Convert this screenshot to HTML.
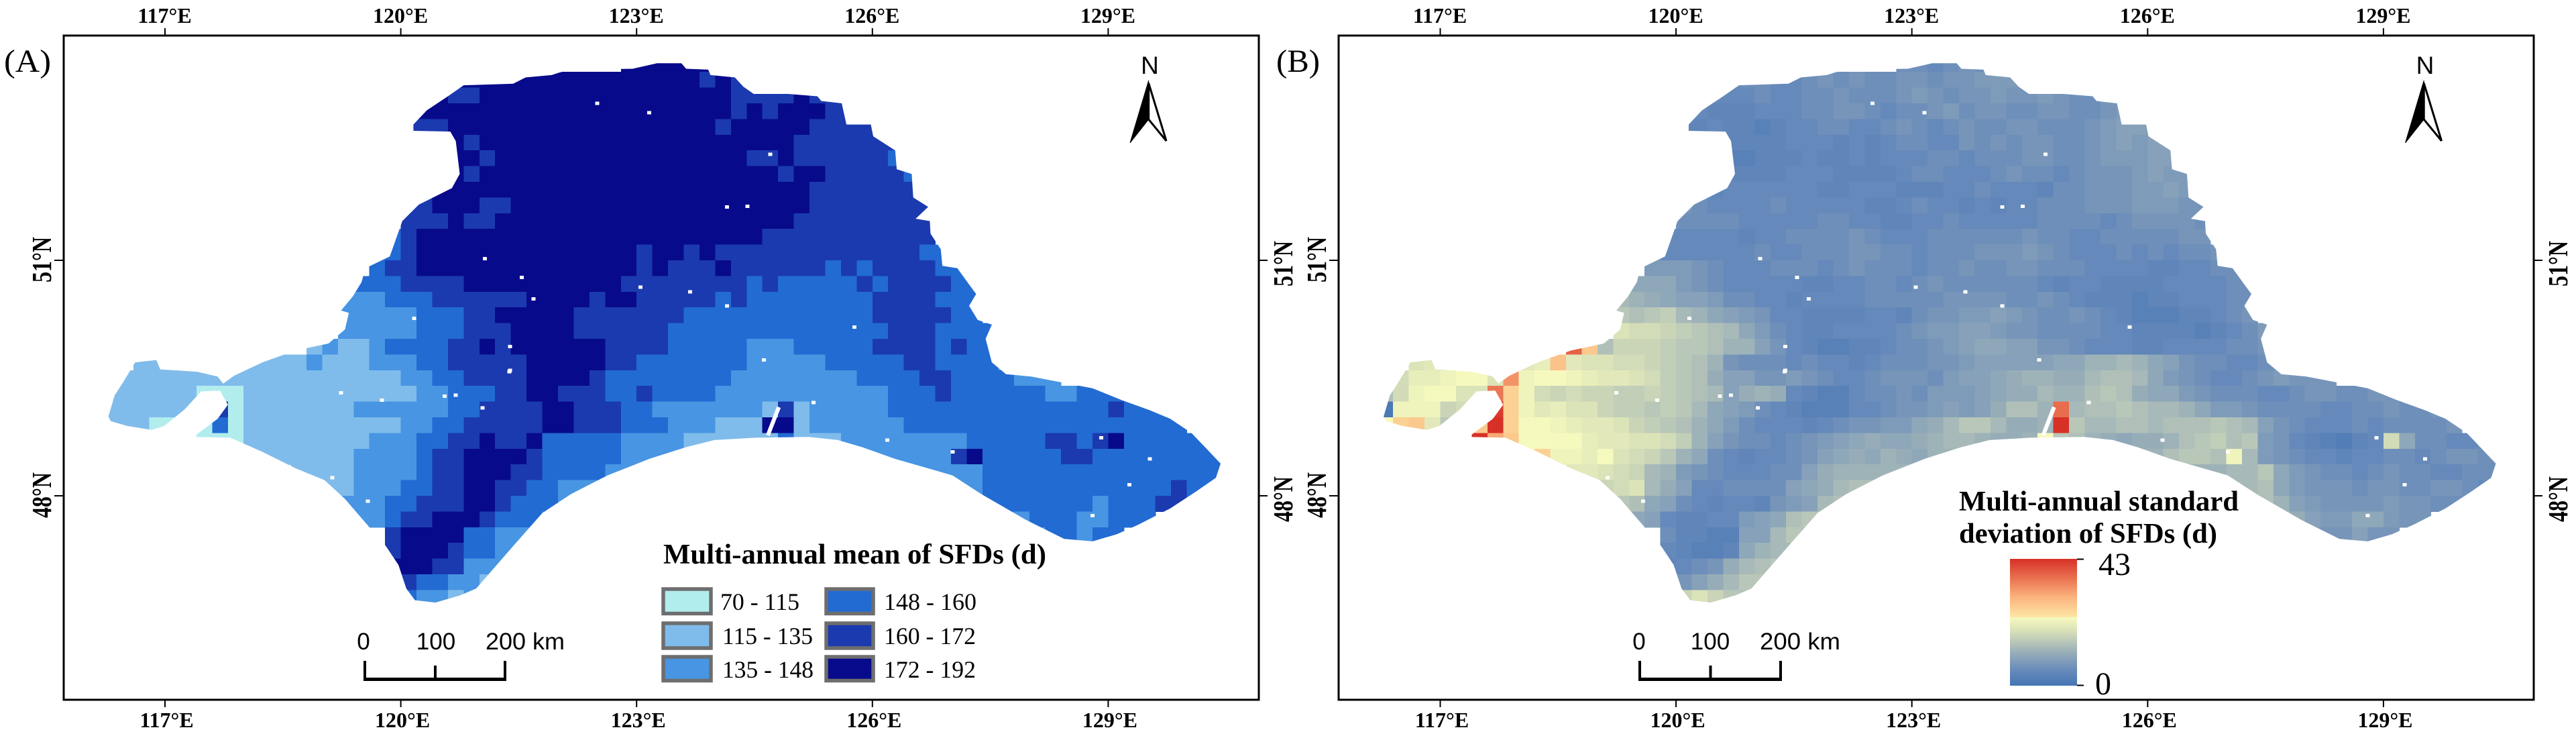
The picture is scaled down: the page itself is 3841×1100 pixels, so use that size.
<!DOCTYPE html>
<html lang="en">
<head>
<meta charset="utf-8">
<title>Multi-annual mean and standard deviation of SFDs</title>
<style>
html,body{margin:0;padding:0;background:#fff;width:3841px;height:1100px;overflow:hidden}
svg{display:block}
.tick{font:bold 32px "Liberation Serif",serif;fill:#000}
.panel{font:48px "Liberation Serif",serif;fill:#000}
.ttl{font:bold 42px "Liberation Serif",serif;fill:#000}
.leg{font:36px "Liberation Serif",serif;fill:#000}
.sc{font:35px "Liberation Sans",sans-serif;fill:#000}
.nn{font:37px "Liberation Sans",sans-serif;fill:#000}
.cb{font:48px "Liberation Serif",serif;fill:#000}
</style>
</head>
<body>
<svg id="chart" xmlns="http://www.w3.org/2000/svg" width="3841" height="1100" viewBox="0 0 3841 1100">
<defs>
<linearGradient id="cbGrad" x1="0" y1="1" x2="0" y2="0"></linearGradient>
</defs>
<rect x="0" y="0" width="3841" height="1100" fill="#fff"/>
<g id="panelA"></g>
<g id="panelB"></g>
<g id="axes"></g>

<rect x="95" y="53" width="1782" height="990" fill="none" stroke="#000" stroke-width="3"/>
<rect x="1996" y="53" width="1782" height="990" fill="none" stroke="#000" stroke-width="3"/>

<text x="6" y="107" class="panel" textLength="70" lengthAdjust="spacingAndGlyphs">(A)</text>
<text x="1903" y="107" class="panel" textLength="65" lengthAdjust="spacingAndGlyphs">(B)</text>

<g>
<text x="1714.5" y="110" text-anchor="middle" class="nn">N</text>
<polygon points="1712.7,120 1685,213 1712.7,178" fill="#000" stroke="#000" stroke-width="1"/>
<polygon points="1712.7,124 1739,210 1712.7,178" fill="#fff" stroke="#000" stroke-width="3"/>
</g>
<g>
<text x="3616" y="110" text-anchor="middle" class="nn">N</text>
<polygon points="3614.2,120 3586.5,213 3614.2,178" fill="#000" stroke="#000" stroke-width="1"/>
<polygon points="3614.2,124 3640.5,210 3614.2,178" fill="#fff" stroke="#000" stroke-width="3"/>
</g>

<g>
<path d="M544,985V1012.5H753V985M649,992V1012" fill="none" stroke="#000" stroke-width="4"/>
<rect x="542" y="1010" width="213" height="5" fill="#000"/>
<text x="542" y="968" text-anchor="middle" class="sc">0</text>
<text x="650" y="968" text-anchor="middle" class="sc">100</text>
<text x="724" y="968" class="sc" textLength="118" lengthAdjust="spacingAndGlyphs">200 km</text>
</g>
<g>
<path d="M2445,985V1012.5H2655V985M2550.5,992V1012" fill="none" stroke="#000" stroke-width="4"/>
<rect x="2443" y="1010" width="214" height="5" fill="#000"/>
<text x="2444" y="968" text-anchor="middle" class="sc">0</text>
<text x="2550" y="968" text-anchor="middle" class="sc">100</text>
<text x="2624" y="968" class="sc" textLength="120" lengthAdjust="spacingAndGlyphs">200 km</text>
</g>

<g>
<text x="989" y="840" class="ttl" textLength="571" lengthAdjust="spacingAndGlyphs">Multi-annual mean of SFDs (d)</text>
<g stroke="#6e6e6e" stroke-width="5.5">
<rect x="989" y="878" width="71" height="36.5" fill="#b2edee"/>
<rect x="989" y="929" width="71" height="37" fill="#80bceb"/>
<rect x="989" y="979" width="71" height="35.5" fill="#4895e3"/>
<rect x="1232" y="878" width="70" height="36.5" fill="#226bd3"/>
<rect x="1232" y="929" width="70" height="37" fill="#1b3aaf"/>
<rect x="1232" y="979" width="70" height="35.5" fill="#080a8c"/>
</g>
<text x="1074" y="909" class="leg" textLength="118" lengthAdjust="spacingAndGlyphs">70 - 115</text>
<text x="1077" y="960" class="leg" textLength="135" lengthAdjust="spacingAndGlyphs">115 - 135</text>
<text x="1077" y="1010" class="leg" textLength="136" lengthAdjust="spacingAndGlyphs">135 - 148</text>
<text x="1318" y="909" class="leg" textLength="138" lengthAdjust="spacingAndGlyphs">148 - 160</text>
<text x="1318" y="960" class="leg" textLength="137" lengthAdjust="spacingAndGlyphs">160 - 172</text>
<text x="1318" y="1010" class="leg" textLength="137" lengthAdjust="spacingAndGlyphs">172 - 192</text>
</g>

<g>
<text x="2921" y="761" class="ttl" textLength="417" lengthAdjust="spacingAndGlyphs">Multi-annual standard</text>
<text x="2921" y="809" class="ttl" textLength="385" lengthAdjust="spacingAndGlyphs">deviation of SFDs (d)</text>
<rect x="2997" y="833" width="100" height="189" fill="url(#cbGrad)"/>
<path d="M3097,833.5H3107M3097,1021.5H3107" stroke="#000" stroke-width="2" fill="none"/>
<text x="3129" y="857" class="cb">43</text>
<text x="3124" y="1035" class="cb">0</text>
</g>
</svg>

<script>
// ---- axis data ----
const lonTicks = [117, 120, 123, 126, 129];
const latTicks = [48, 51];
const stdMax = 43;

// ---- legend classes ----
const meanBreaks = [70, 115, 135, 148, 160, 172, 192];
const meanColors = ['#b2edee', '#80bceb', '#4895e3', '#226bd3', '#1b3aaf', '#080a8c'];

// ---- colour ramp of the standard deviation map (fraction of max, colour) ----
const stdRampAt = [0, 0.115, 0.292, 0.434, 0.54, 0.54, 0.7, 0.85, 1];
const stdRampColor = ['#4575b4', '#6589ba', '#a3b6b8', '#d9e1b8', '#f7fabe', '#fde6a5', '#fab27c', '#ea7050', '#d73027'];

// ---- study-area outline (degrees) ----
const outlineLon = [120.80,121.43,121.59,121.92,122.01,122.16,122.95,123.26,123.57,123.63,123.91,123.94,124.25,124.36,124.49,124.93,125.30,125.35,125.61,125.67,125.98,126.01,126.29,126.31,126.50,126.52,126.71,126.55,126.73,126.74,126.87,126.89,127.08,127.21,127.32,127.23,127.34,127.52,127.44,127.52,127.70,128.02,128.33,128.80,129.17,129.53,129.79,130.06,130.26,130.43,130.37,130.11,129.79,129.38,129.11,128.80,128.44,127.96,127.39,127.02,126.29,125.87,125.56,125.19,124.52,123.99,123.63,123.16,122.63,122.16,121.80,121.43,120.96,120.75,120.44,120.18,120.07,119.97,119.81,119.60,119.29,119.03,118.66,118.24,117.83,117.36,117.67,117.80,117.70,117.46,117.25,116.99,116.83,116.52,116.31,116.28,116.36,116.47,116.62,116.89,116.94,117.41,117.67,117.74,117.88,118.24,118.66,119.08,119.29,119.34,119.24,119.39,119.50,119.55,119.86,120.02,120.23,120.65,120.75,120.70,120.63,120.16,120.16,120.33,120.60];
const outlineLat = [53.23,53.25,53.33,53.36,53.39,53.43,53.44,53.51,53.51,53.44,53.43,53.36,53.33,53.21,53.12,53.12,53.09,53.03,53.00,52.73,52.73,52.58,52.40,52.16,52.10,51.80,51.68,51.53,51.50,51.34,51.14,50.93,50.90,50.72,50.57,50.42,50.24,50.18,50.00,49.70,49.55,49.52,49.46,49.37,49.22,49.09,48.98,48.80,48.59,48.41,48.23,48.05,47.84,47.63,47.51,47.42,47.45,47.69,48.02,48.26,48.47,48.62,48.71,48.75,48.74,48.71,48.62,48.47,48.26,48.02,47.78,47.36,46.82,46.73,46.64,46.67,46.82,47.12,47.36,47.60,47.96,48.20,48.35,48.56,48.74,48.75,48.98,49.16,49.34,49.33,49.10,48.89,48.84,48.89,48.95,49.01,49.28,49.45,49.70,49.73,49.61,49.58,49.52,49.43,49.53,49.70,49.85,49.94,50.12,50.33,50.36,50.54,50.72,50.90,51.05,51.50,51.71,51.92,52.10,52.52,52.64,52.65,52.73,52.91,53.09];

// ---- small water bodies masked out of both maps (degrees) ----
const waterLon = [124.70,124.15,124.41,123.16,122.50,121.07,121.54,121.69,124.15,123.68,123.05,124.62,126.19,127.02,128.91,129.53,129.27,128.80,120.70,119.76,119.24,121.38,119.13,125.77,125.25,120.56,121.39,121.39,120.17,121.04,119.58];
const waterLat = [52.35,51.68,51.69,52.88,53.00,51.02,50.78,50.51,50.42,50.60,50.66,49.73,48.71,48.56,48.74,48.47,48.14,47.75,49.28,49.22,49.31,49.58,48.23,50.15,49.19,49.27,49.90,49.60,50.26,49.12,47.93];
const narrowLakeLon = [124.81, 124.74, 124.67];
const narrowLakeLat = [49.13, 48.95, 48.77];

// ---- raster grid: 0.2 degree cells, first row starts at 53.6N, first column at 116.2E ----
const gridLon0 = 116.2;
const gridLat0 = 53.6;
const gridStep = 0.2;

// Mean SFDs by row, run-length coded: [first column, value, run, value, run, ...]
const meanRows = [
[33,182,7],
[22,182,16,166,1,182,1,166,2],
[21,182,1,166,2,182,16,166,4,182,1,166,3],
[20,182,20,166,1,182,1,166,1,182,3,166,3],
[19,166,3,182,17,166,1,182,5,166,5],
[22,182,1,166,1,182,20,166,7],
[22,182,2,166,1,182,16,166,2,182,1,166,6,154,1,166,1],
[22,182,1,166,1,182,19,166,1,182,2,166,5,154,1],
[21,182,24,166,7,154,1],
[19,166,2,182,3,166,2,182,19,166,8],
[19,166,3,182,1,166,2,182,19,166,9],
[18,154,1,166,1,182,22,166,11],
[17,154,2,166,1,182,14,166,1,182,2,166,1,182,1,166,13,154,3],
[17,154,1,166,2,182,14,166,1,182,1,166,3,182,1,166,6,154,1,166,1,154,1,166,4,154,2],
[16,154,3,166,4,182,10,166,8,154,1,166,1,154,5,166,1,154,1,166,4,154,2],
[15,141,3,154,3,166,6,182,4,166,1,182,2,166,5,154,1,166,1,154,8,166,4,154,3],
[15,141,5,154,3,166,2,182,5,166,7,154,12,166,5,154,2],
[15,141,5,154,3,166,3,182,4,166,6,154,14,166,3,154,4],
[13,125,1,141,1,125,2,141,1,154,4,166,2,182,1,166,1,182,6,166,4,154,5,141,3,154,5,166,4,154,1,166,1,154,2],
[2,125,11,141,1,125,3,141,3,154,2,166,5,182,5,166,2,154,7,141,5,154,5,166,2,154,4,141,1],
[1,125,18,141,2,154,2,166,4,182,4,166,1,154,8,141,8,154,4,166,2,154,4,141,3],
[0,125,6,90,3,125,11,141,2,154,3,166,2,182,2,166,3,154,2,166,1,154,4,141,11,154,3,166,1,154,6,141,2,154,4],
[0,125,6,90,1,166,1,90,1,125,7,141,6,154,2,166,4,182,2,166,3,154,2,141,7,125,1,166,1,125,1,141,5,154,14,166,1,154,3],
[0,125,3,90,2,90,2,154,1,90,1,125,10,141,2,154,2,166,5,182,2,166,3,154,3,141,3,125,3,182,2,125,1,141,6,154,18],
[6,90,3,125,8,141,3,154,2,166,2,182,1,166,2,182,1,154,5,141,4,125,6,154,1,125,3,141,8,154,5,166,2,154,1,166,1,182,1,154,6],
[9,125,7,141,4,154,1,166,2,182,4,166,1,154,5,141,21,166,1,182,1,154,5,166,2,154,9],
[12,125,4,141,4,154,1,166,2,182,3,166,2,154,4,141,24,154,16],
[14,125,2,141,3,154,2,166,2,182,2,166,2,154,2,141,27,154,12,166,1,154,3],
[15,141,3,154,2,166,3,182,2,166,1,154,3,141,27,154,7,141,1,154,3,166,2,154,3],
[16,141,2,154,1,166,2,182,3,166,1,154,3,141,31,154,3,141,2,154,3],
[18,166,1,182,4,154,2,141,35,154,2,141,1,154,2],
[18,166,1,182,3,166,1,154,2,141,2],
[18,182,3,166,2,141,3],
[18,166,2,154,2,141,2,125,1],
[19,154,1,141,2,125,1,141,1,125,1]
];

// Standard deviation of SFDs (d) by row: [first column, then one value per cell]
const stdRows = [
[33,6,6,5,6,7,6,6],
[22,6,6,6,5,5,6,7,6,7,6,6,7,7,6,7,7,8,8,8,7],
[21,5,5,5,6,5,5,6,6,7,6,6,6,7,8,7,6,7,7,8,7,7,8,7,6,6,8,8],
[20,5,4,4,4,5,5,5,6,6,7,7,6,5,6,6,7,8,6,7,7,6,6,7,7,6,6,7,8,9],
[19,4,4,5,4,4,3,4,5,5,6,6,5,5,6,7,6,5,6,7,6,6,7,7,6,6,6,7,8,9,9,10],
[22,4,4,4,4,5,5,5,4,5,4,5,6,6,5,5,7,6,7,6,7,7,6,6,7,8,9,8,9,9],
[22,3,3,4,4,4,5,4,4,5,4,5,5,5,6,6,5,6,6,6,7,7,6,6,7,8,8,8,9,9,8],
[22,4,4,4,4,5,5,5,4,4,4,4,5,6,6,5,5,5,6,7,6,6,5,6,7,7,7,8,9,8,8],
[21,4,5,5,5,5,5,5,4,4,5,5,5,4,4,4,5,5,6,5,5,5,4,6,6,7,7,7,8,8,9,8,8],
[19,7,6,5,5,5,5,6,5,5,5,5,5,4,4,5,6,5,5,4,5,4,5,5,6,6,6,7,7,7,8,8,8,7,7],
[19,6,6,6,6,5,5,5,5,5,6,6,5,5,4,4,5,5,6,5,5,5,5,5,6,6,6,6,5,6,7,7,7,7,6],
[18,5,5,5,5,5,4,5,5,6,6,6,6,7,6,5,5,5,6,6,6,6,6,6,7,6,6,5,5,6,6,6,6,6,7,7],
[17,8,5,5,5,5,5,5,6,5,5,6,6,6,7,7,6,6,5,6,6,6,7,7,7,8,7,6,5,5,5,6,5,6,5,6,6,7,7],
[17,8,8,8,7,6,5,5,5,6,6,6,5,6,7,6,6,6,5,6,6,7,6,6,7,7,6,6,6,5,5,5,5,4,4,5,5,6,6],
[16,10,10,10,8,7,6,5,5,5,5,5,4,4,5,5,6,6,5,6,7,6,6,6,6,6,6,5,4,5,5,4,4,4,4,5,5,5,5,6,6],
[15,13,12,11,10,9,9,8,6,6,5,5,4,5,5,5,5,6,6,6,6,6,7,7,7,7,6,6,7,6,5,4,4,4,3,4,4,5,5,5,6,6],
[15,15,14,15,16,13,12,10,9,8,7,5,5,4,4,4,4,5,5,4,6,7,7,8,8,9,8,7,6,6,7,6,5,4,3,3,3,4,4,5,6,7],
[15,19,18,18,17,16,15,14,13,10,8,6,5,4,4,5,5,5,5,6,7,8,8,9,9,8,7,7,6,6,6,6,5,5,4,4,4,4,3,4,5,6,8],
[12,38,27,14,17,17,17,16,15,15,14,12,12,9,7,5,4,3,3,4,4,5,6,6,7,8,9,10,10,9,9,7,7,6,5,5,5,4,4,5,5,5,5,6,6,7,8],
[2,19,20,19,20,20,20,20,20,21,28,20,19,19,18,18,17,16,15,14,12,7,6,6,6,5,6,5,5,4,5,6,6,6,7,7,8,9,9,9,9,9,10,10,12,12,13,12,10,9,7,6,6,5,5,6,6,5],
[1,18,21,21,22,23,23,19,33,22,23,23,22,21,20,20,19,18,16,15,14,11,9,9,7,7,8,7,6,5,5,6,7,7,7,6,8,9,9,10,11,12,12,11,11,13,14,14,13,10,8,7,6,5,5,6,7,8,7,7,7],
[0,14,18,22,23,23,19,19,36,26,22,18,17,18,17,17,16,16,17,16,15,14,13,9,11,12,11,5,4,3,3,5,6,6,7,6,8,8,8,9,10,11,11,13,12,12,14,15,14,11,10,10,8,7,6,6,6,5,5,6,7,7,6,6,7,7,6],
[0,1,22,22,22,17,18,23,42,26,22,20,21,19,19,17,16,16,15,16,15,13,10,9,8,6,5,4,3,3,3,5,5,6,7,7,8,9,8,9,11,14,14,12,37,13,14,14,15,14,13,13,12,10,8,8,7,6,6,6,6,5,5,6,6,7,6,6,7],
[0,23,26,27,20,15,15,27,43,26,23,23,22,21,20,20,19,17,16,15,14,12,10,8,6,5,5,5,4,5,6,7,7,8,8,10,11,13,15,15,13,11,11,12,43,15,13,13,14,14,13,14,14,14,15,14,13,9,7,6,5,5,5,6,5,6,6,6,6,7],
[6,43,31,27,23,23,23,23,21,20,20,19,19,18,16,12,9,7,6,6,5,6,7,8,9,10,11,10,10,11,12,13,13,12,11,11,12,23,15,14,12,11,10,11,11,12,14,15,16,14,15,8,7,5,4,3,2,4,5,18,10,6,6,5,5,6],
[9,23,26,22,22,21,23,19,18,17,15,12,10,6,5,4,5,5,6,7,9,10,11,10,12,11,10,12,12,12,12,12,12,12,12,12,12,12,12,12,12,12,14,15,15,14,22,13,8,7,6,5,5,4,5,5,6,6,5,6,7,7,6,6],
[12,20,20,19,18,17,13,12,8,7,6,5,5,5,6,6,9,11,12,12,12,12,12,12,12,12,12,12,12,12,12,12,12,12,12,12,12,12,12,12,12,12,12,13,13,15,10,8,7,6,6,5,6,7,6,6,5,5,6,6,6],
[14,17,18,19,13,11,9,5,5,6,6,6,6,9,10,11,13,14,14,14,14,14,14,14,14,14,14,14,14,14,14,14,14,14,14,14,14,14,14,14,14,13,13,14,10,8,7,7,7,6,7,7,6,6,7,7,6,5,5],
[15,15,14,10,9,6,5,4,5,5,4,7,8,9,13,14,14,14,14,14,14,14,14,14,14,14,14,14,14,14,14,14,14,14,14,14,14,14,14,14,14,14,14,12,9,8,7,7,7,7,8,7,7,6,6,6,5,5],
[16,10,9,5,4,4,5,5,8,9,10,14,15,16,15,15,15,15,15,15,15,15,15,15,15,15,15,15,15,15,15,15,15,15,15,15,15,15,15,15,15,15,14,11,9,8,8,10,10,8,7,7],
[18,6,4,4,3,3,9,9,13,15,14,14,14,14,14,14,14,14,14,14,14,14,14,14,14,14,14,14,14,14,14,14,14,14,14,14,14,14,14,14,14,10,8,7,7,9,7,7],
[18,5,4,3,3,4,10,12,13,13,12],
[18,4,5,6,7,11,13,14,15,14],
[18,4,7,9,11,13,15,15,14],
[19,17,19,17,15,14,14,13]
];

// ---- axis functions ----
const panelOffset = 1901.5;
const pxPerLon = 117.2;
const pxPerLat = 117;
function xScale(lon, panel) { return 246 + (lon - 117) * pxPerLon + (panel === 1 ? panelOffset : 0); }
function yScale(lat) { return 739 - (lat - 48) * pxPerLat; }

const NS = 'http://www.w3.org/2000/svg';
const svg = document.getElementById('chart');
const defs = svg.querySelector('defs');

function hex2rgb(h) { return [parseInt(h.substr(1,2),16), parseInt(h.substr(3,2),16), parseInt(h.substr(5,2),16)]; }
function stdColor(v) {
  const p = Math.max(0, Math.min(1, v / stdMax));
  for (let i = 0; i < stdRampAt.length - 1; i++) {
    const a = stdRampAt[i], b = stdRampAt[i + 1];
    if (p <= b && b > a) {
      const t = (p - a) / (b - a);
      const c0 = hex2rgb(stdRampColor[i]), c1 = hex2rgb(stdRampColor[i + 1]);
      return 'rgb(' + [0,1,2].map(function (k) { return Math.round(c0[k] + (c1[k] - c0[k]) * t); }).join(',') + ')';
    }
  }
  return stdRampColor[stdRampColor.length - 1];
}
function meanColor(v) {
  for (let i = 0; i < meanColors.length; i++) { if (v < meanBreaks[i + 1]) return meanColors[i]; }
  return meanColors[meanColors.length - 1];
}

// colorbar gradient
const grad = document.getElementById('cbGrad');
stdRampAt.forEach(function (at, i) {
  const st = document.createElementNS(NS, 'stop');
  st.setAttribute('offset', at);
  st.setAttribute('stop-color', stdRampColor[i]);
  grad.appendChild(st);
});

function makeClip(panel) {
  const cp = document.createElementNS(NS, 'clipPath');
  cp.setAttribute('id', 'clip' + panel);
  const poly = document.createElementNS(NS, 'polygon');
  poly.setAttribute('points', outlineLon.map(function (lon, i) {
    return xScale(lon, panel).toFixed(1) + ',' + yScale(outlineLat[i]).toFixed(1);
  }).join(' '));
  cp.appendChild(poly);
  defs.appendChild(cp);
}

function addCell(parent, panel, col, row, span, fill) {
  const x0 = xScale(gridLon0 + col * gridStep, panel);
  const x1 = xScale(gridLon0 + (col + span) * gridStep, panel);
  const y0 = yScale(gridLat0 - row * gridStep);
  const y1 = yScale(gridLat0 - (row + 1) * gridStep);
  const r = document.createElementNS(NS, 'rect');
  r.setAttribute('x', x0.toFixed(1));
  r.setAttribute('y', y0.toFixed(1));
  r.setAttribute('width', (x1 - x0 + 0.6).toFixed(1));
  r.setAttribute('height', (y1 - y0 + 0.6).toFixed(1));
  r.setAttribute('fill', fill);
  
  
  parent.appendChild(r);
}

function addWater(parent, panel) {
  waterLon.forEach(function (lon, i) {
    const c = document.createElementNS(NS, 'rect');
    c.setAttribute('x', (xScale(lon, panel) - 3).toFixed(1));
    c.setAttribute('y', (yScale(waterLat[i]) - 2.5).toFixed(1));
    c.setAttribute('width', 6);
    c.setAttribute('height', 5);
    c.setAttribute('fill', '#fff');
    
    
    parent.appendChild(c);
  });
  const lake = document.createElementNS(NS, 'polyline');
  lake.setAttribute('points', narrowLakeLon.map(function (lon, i) {
    return xScale(lon, panel).toFixed(1) + ',' + yScale(narrowLakeLat[i]).toFixed(1);
  }).join(' '));
  lake.setAttribute('fill', 'none');
  lake.setAttribute('stroke', '#fff');
  lake.setAttribute('stroke-width', 6);
  
  
  parent.appendChild(lake);
}

// Panel A
makeClip(0);
const gA = document.createElementNS(NS, 'g');
gA.setAttribute('clip-path', 'url(#clip0)');
gA.setAttribute('shape-rendering', 'crispEdges');


document.getElementById('panelA').appendChild(gA);
meanRows.forEach(function (row, r) {
  let col = row[0];
  for (let i = 1; i < row.length; i += 2) {
    addCell(gA, 0, col, r, row[i + 1], meanColor(row[i]));
    col += row[i + 1];
  }
});
addWater(gA, 0);

// Panel B
makeClip(1);
const gB = document.createElementNS(NS, 'g');
gB.setAttribute('clip-path', 'url(#clip1)');
gB.setAttribute('shape-rendering', 'crispEdges');


document.getElementById('panelB').appendChild(gB);
stdRows.forEach(function (row, r) {
  for (let i = 1; i < row.length; i++) {
    addCell(gB, 1, row[0] + i - 1, r, 1, stdColor(row[i]));
  }
});
addWater(gB, 1);

// Axes: ticks and labels
const axes = document.getElementById('axes');
function line(x1, y1, x2, y2) {
  const l = document.createElementNS(NS, 'line');
  l.setAttribute('x1', x1); l.setAttribute('y1', y1);
  l.setAttribute('x2', x2); l.setAttribute('y2', y2);
  l.setAttribute('stroke', '#000');
  l.setAttribute('stroke-width', 2);
  
  
  axes.appendChild(l);
}
function label(txt, x, y, transform) {
  const t = document.createElementNS(NS, 'text');
  t.setAttribute('class', 'tick');
  t.setAttribute('text-anchor', 'middle');
  if (transform) { t.setAttribute('transform', transform); }
  else { t.setAttribute('x', x); t.setAttribute('y', y); }
  
  
  t.textContent = txt;
  axes.appendChild(t);
}
[0, 1].forEach(function (panel) {
  const left = panel === 0 ? 94 : 1995;
  const right = panel === 0 ? 1877 : 3778;
  lonTicks.forEach(function (lon) {
    const x = xScale(lon, panel);
    line(x, 42, x, 52);
    line(x, 1043, x, 1054);
    label(lon + '°E', x - 0.5, 34);
    label(lon + '°E', x + 2.5, 1084);
  });
  latTicks.forEach(function (lat) {
    const y = yScale(lat);
    line(left - 13, y, left, y);
    line(right, y, right + 13, y);
    label(lat + '°N', 0, 0, 'translate(' + (left - 18) + ',' + (y - 1) + ') rotate(-90) scale(1,1.28)');
    label(lat + '°N', 0, 0, 'translate(' + (right + 50) + ',' + (y + 5) + ') rotate(-90) scale(1,1.28)');
  });
});
</script>
</body>
</html>
